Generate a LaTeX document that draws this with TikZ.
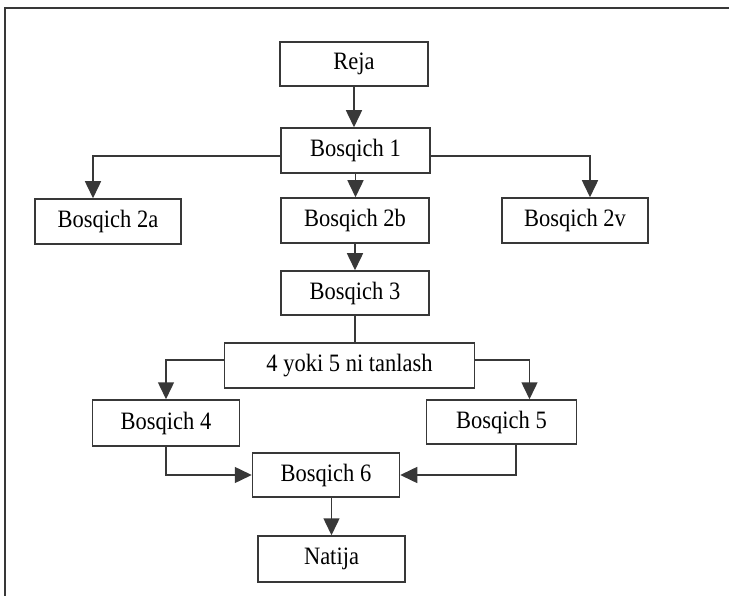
\documentclass[tikz,border=0pt]{standalone}
\usepackage{fontspec}
\setmainfont[FakeStretch=0.9]{Liberation Serif}
\usepackage{xcolor}
\usetikzlibrary{positioning,arrows.meta,calc}
\definecolor{ink}{gray}{0.22}

\begin{document}
\begin{tikzpicture}[
		x=1pt, y=-1pt,
		font=\fontsize{25}{28}\selectfont,
		stage/.style={draw=ink, line width=1.5pt, align=center, inner sep=2pt,
				minimum width=148pt, minimum height=45pt},
		arr/.style={-{Triangle[length=17pt, width=16pt]}, draw=ink,
				line width=1.5pt},
		ln/.style={draw=ink, line width=1.5pt}
		]
		\useasboundingbox (0,0) rectangle (729,596);
		% frame of the page
		\draw[ink, line width=1.5pt] (5,596) -- (5,8) -- (729,8);

		\node[stage, minimum height=44pt] (reja) at (354,64) {Reja};
		\node[stage, minimum width=149pt] (b1) at (355.5,150.5) {Bosqich 1};
		\node[stage, minimum width=146pt] (b2a) at (108,221.5) {Bosqich 2a};
		\node[stage] (b2b) at (355,220.5) {Bosqich 2b};
		\node[stage, minimum width=146pt] (b2v) at (575,220.5) {Bosqich 2v};
		\node[stage, minimum height=44pt] (b3) at (355,293) {Bosqich 3};
		\node[stage, minimum width=250pt] (tanlash) at (349.5,365.5)
		{4 yoki 5 ni tanlash};
		\node[stage, minimum width=147pt, minimum height=46pt] (b4)
		at (166,423) {Bosqich 4};
		\node[stage, minimum width=150pt, minimum height=44pt] (b5)
		at (501.5,422) {Bosqich 5};
		\node[stage, minimum width=147pt, minimum height=44pt] (b6)
		at (326,475) {Bosqich 6};
		\node[stage, minimum width=147pt, minimum height=46pt] (natija)
		at (331.5,559) {Natija};

		\draw[arr] (reja.south) -- (reja.south |- b1.north);
		\draw[arr] ([yshift=-5.5pt]b1.west) -| ([xshift=-15pt]b2a.north);
		\draw[arr] (b1.south) -- (b1.south |- b2b.north);
		\draw[arr] ([yshift=-5.5pt]b1.east) -| ([xshift=15pt]b2v.north);
		\draw[arr] (b2b.south) -- (b3.north);
		\draw[ln] (b3.south) -- (b3.south |- tanlash.north);
		\draw[arr] ([yshift=5.5pt]tanlash.west) -| (b4.north);
		\draw[arr] ([yshift=5.5pt]tanlash.east) -| ([xshift=28pt]b5.north);
		\draw[arr] (b4.south) |- (b6.west);
		\draw[arr] ([xshift=14.5pt]b5.south) |- (b6.east);
		\draw[arr] (natija.north |- b6.south) -- (natija.north);
	\end{tikzpicture}
\end{document}
